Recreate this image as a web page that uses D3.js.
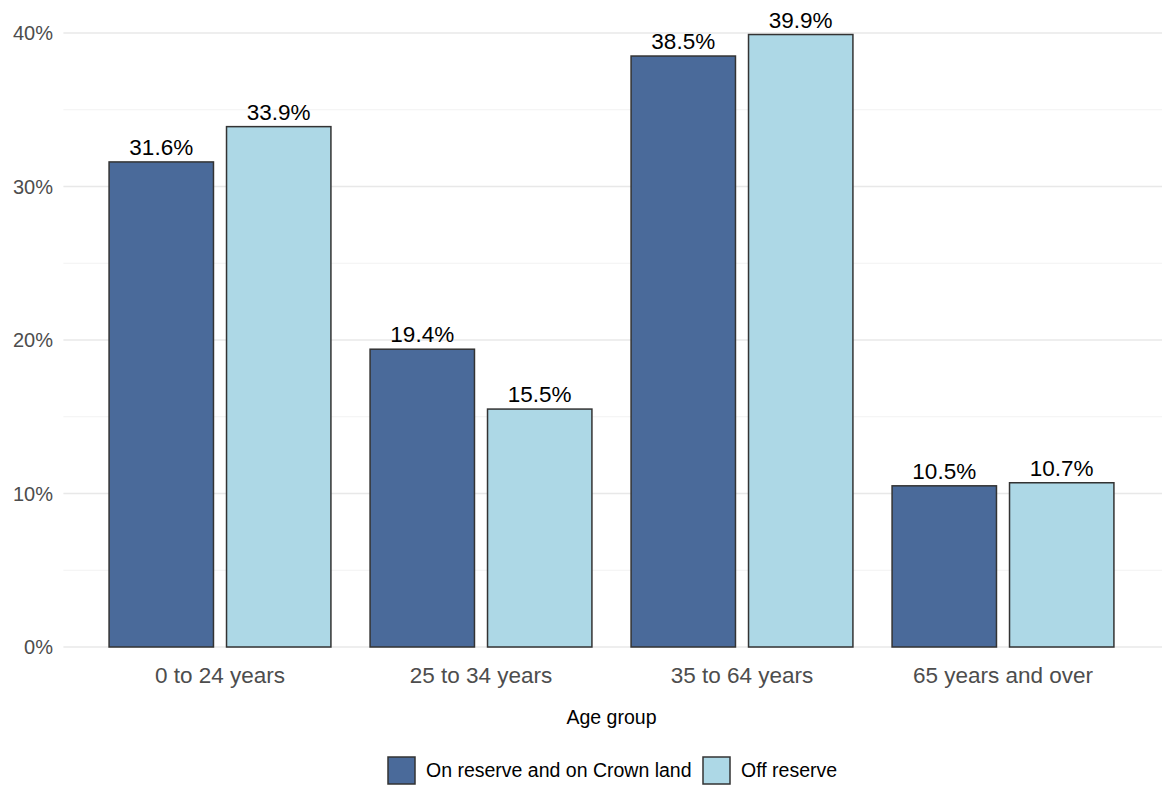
<!DOCTYPE html>
<html><head><meta charset="utf-8">
<script src="https://cdn.jsdelivr.net/npm/d3@7"></script>
<style>body{margin:0;background:#fff}svg{display:block;font-family:"Liberation Sans",Arial,sans-serif}</style>
</head><body>
<svg id="c" width="1170" height="795"></svg>
<script>
const categories = ["0 to 24 years","25 to 34 years","35 to 64 years","65 years and over"];
const seriesNames = ["On reserve and on Crown land","Off reserve"];
const onReserve = [31.6, 19.4, 38.5, 10.5];
const offReserve = [33.9, 15.5, 39.9, 10.7];
const yTicks = [0, 10, 20, 30, 40];
const yMinor = [5, 15, 25, 35];
const colors = ["#4A6A9A", "#ADD8E6"];

const svg = d3.select("#c");
const L = 63.4, R = 1159.6, T = 33, B = 647;
const x = d3.scaleBand().domain(categories).range([L, R]).paddingInner(0).paddingOuter(0.1);
const y = d3.scaleLinear().domain([0, 40]).range([B, T]);
const step = x.step();

// grid
svg.append("g").selectAll("line").data(yMinor).join("line")
  .attr("x1", L).attr("x2", 1162).attr("y1", d => y(d)).attr("y2", d => y(d))
  .attr("stroke", "#f2f2f2").attr("stroke-width", 1);
svg.append("g").selectAll("line").data(yTicks).join("line")
  .attr("x1", L).attr("x2", 1162).attr("y1", d => y(d)).attr("y2", d => y(d))
  .attr("stroke", "#e8e8e8").attr("stroke-width", 1.3);

// y labels
svg.append("g").selectAll("text").data(yTicks).join("text")
  .attr("x", 53).attr("y", d => y(d)).attr("dy", "0.35em").attr("text-anchor", "end")
  .attr("font-size", 20).attr("fill", "#4d4d4d").text(d => d + "%");

// bars
const series = [onReserve, offReserve];
series.forEach((vals, si) => {
  const off = (si === 0 ? -0.225 : 0.225) * step;
  const w = 0.4 * step;
  const g = svg.append("g");
  g.selectAll("rect").data(categories).join("rect")
    .attr("x", (d) => x(d) + step / 2 + off - w / 2)
    .attr("width", w)
    .attr("y", (d, i) => y(vals[i]))
    .attr("height", (d, i) => y(0) - y(vals[i]))
    .attr("fill", colors[si]).attr("stroke", "#333").attr("stroke-width", 1.5);
  g.selectAll("text").data(categories).join("text")
    .attr("x", (d) => x(d) + step / 2 + off)
    .attr("y", (d, i) => y(vals[i]) - 7)
    .attr("text-anchor", "middle").attr("font-size", 22.5).attr("fill", "#000")
    .text((d, i) => vals[i].toFixed(1) + "%");
});

// x labels
svg.append("g").selectAll("text").data(categories).join("text")
  .attr("x", d => x(d) + step / 2).attr("y", 683)
  .attr("text-anchor", "middle").attr("font-size", 22.5).attr("fill", "#4d4d4d").text(d => d);

svg.append("text").attr("x", (L + R) / 2).attr("y", 724).attr("text-anchor", "middle")
  .attr("font-size", 19.5).attr("fill", "#000").text("Age group");

// legend
const leg = svg.append("g");
const lx = [388, 703];
seriesNames.forEach((s, i) => {
  leg.append("rect").attr("x", lx[i]).attr("y", 757).attr("width", 27).attr("height", 27)
    .attr("fill", colors[i]).attr("stroke", "#333").attr("stroke-width", 1.5);
  leg.append("text").attr("x", lx[i] + 38).attr("y", 777).attr("font-size", 19.5).attr("fill", "#000").text(s);
});
</script>
</body></html>
